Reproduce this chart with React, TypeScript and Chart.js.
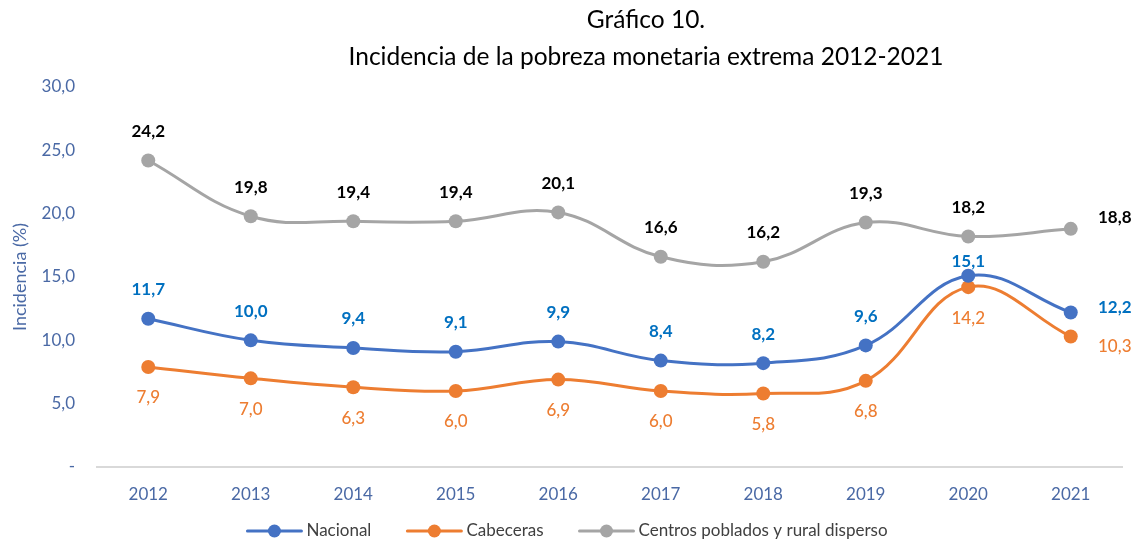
import React, { useEffect, useRef } from 'react';
import { Chart, registerables } from 'chart.js';

Chart.register(...registerables);

const years = ['2012', '2013', '2014', '2015', '2016', '2017', '2018', '2019', '2020', '2021'];
const nacional = [11.7, 10.0, 9.4, 9.1, 9.9, 8.4, 8.2, 9.6, 15.1, 12.2];
const cabeceras = [7.9, 7.0, 6.3, 6.0, 6.9, 6.0, 5.8, 6.8, 14.2, 10.3];
const centros = [24.2, 19.8, 19.4, 19.4, 20.1, 16.6, 16.2, 19.3, 18.2, 18.8];
const seriesNames = ['Nacional', 'Cabeceras', 'Centros poblados y rural disperso'];
const titleLines = ['Gráfico 10.', 'Incidencia de la pobreza monetaria extrema 2012-2021'];
const yTitle = 'Incidencia (%)';

const FONT = 'Lato, "Open Sans", sans-serif';
const AXIS_COLOR = '#4A69A5';
const lineColors = ['#4472C4', '#ED7D31', '#A5A5A5'];
const labelColors = ['#0070C0', '#ED7D31', '#000000'];
const labelWeights = ['bold', '500', 'bold'];

const fmt = (v: number) => v.toFixed(1).replace('.', ',');

const titlePlugin = {
  id: 'customTitle',
  afterDraw(chart: any) {
    const ctx = chart.ctx;
    ctx.save();
    ctx.fillStyle = '#000000';
    ctx.font = `24.5px ${FONT}`;
    ctx.textAlign = 'center';
    ctx.textBaseline = 'middle';
    ctx.fillText(titleLines[0], 646, 20);
    ctx.fillText(titleLines[1], 646, 57);
    ctx.restore();
  },
};

const legendPlugin = {
  id: 'customLegend',
  afterDraw(chart: any) {
    const ctx = chart.ctx;
    ctx.save();
    ctx.font = `17px ${FONT}`;
    const lineW = 56;
    const textGap = 4;
    const itemGap = 35;
    const names = chart.data.datasets.map((d: any) => d.label);
    const widths = names.map((n: string) => ctx.measureText(n).width);
    const total = widths.reduce((a: number, w: number) => a + lineW + textGap + w, 0) + itemGap * (names.length - 1);
    let x = chart.width / 2 - total / 2;
    const y = 531;
    names.forEach((n: string, i: number) => {
      const color = chart.data.datasets[i].borderColor;
      ctx.strokeStyle = color;
      ctx.lineWidth = 3;
      ctx.lineCap = 'round';
      ctx.beginPath();
      ctx.moveTo(x + 1, y);
      ctx.lineTo(x + lineW - 1, y);
      ctx.stroke();
      ctx.fillStyle = color;
      ctx.beginPath();
      ctx.arc(x + lineW / 2, y, 6.5, 0, Math.PI * 2);
      ctx.fill();
      ctx.fillStyle = '#404040';
      ctx.textAlign = 'left';
      ctx.textBaseline = 'middle';
      ctx.fillText(n, x + lineW + textGap, y);
      x += lineW + textGap + widths[i] + itemGap;
    });
    ctx.restore();
  },
};

const labelPlugin = {
  id: 'pointLabels',
  afterDatasetsDraw(chart: any) {
    const ctx = chart.ctx;
    ctx.save();
    ctx.textAlign = 'center';
    ctx.textBaseline = 'middle';
    chart.data.datasets.forEach((ds: any, di: number) => {
      const meta = chart.getDatasetMeta(di);
      ctx.fillStyle = labelColors[di];
      ctx.font = `${labelWeights[di]} 17px ${FONT}`;
      meta.data.forEach((pt: any, i: number) => {
        const v = ds.data[i];
        let x = pt.x;
        let y = pt.y;
        const last = i === ds.data.length - 1;
        if (last) {
          x += 44;
          y += di === 0 ? -5 : di === 1 ? 10 : -11;
        } else if (di === 1) {
          y += 31;
        } else if (di === 0 && i === 8) {
          y -= 14;
        } else {
          y -= 29;
        }
        ctx.fillText(fmt(v), x, y);
      });
    });
    ctx.restore();
  },
};

export default function App() {
  const ref = useRef<HTMLCanvasElement>(null);

  useEffect(() => {
    if (!ref.current) return;
    const seriesData = [nacional, cabeceras, centros];
    const chart = new Chart(ref.current, {
      type: 'line',
      data: {
        labels: years,
        datasets: seriesData.map((d, i) => ({
          label: seriesNames[i],
          data: d,
          borderColor: lineColors[i],
          backgroundColor: lineColors[i],
          borderWidth: 3,
          pointRadius: 7,
          pointHoverRadius: 7,
          pointBackgroundColor: lineColors[i],
          pointBorderColor: lineColors[i],
          pointBorderWidth: 0,
          tension: 0.4,
          fill: false,
        })),
      },
      options: {
        responsive: false,
        maintainAspectRatio: false,
        animation: false,
        layout: { padding: { top: 87, right: 12, bottom: 26, left: 0 } },
        plugins: {
          title: { display: false },
          tooltip: { enabled: false },
          legend: { display: false },
        },
        scales: {
          x: {
            offset: true,
            grid: { display: false, drawTicks: false },
            border: { display: true, color: '#D9D9D9', width: 2 },
            ticks: { color: AXIS_COLOR, font: { family: FONT, size: 17 }, padding: 17 },
            afterFit: (scale: any) => {
              scale.height = 48;
            },
          },
          y: {
            min: 0,
            max: 30,
            grid: { display: false, drawTicks: false },
            border: { display: false },
            ticks: {
              stepSize: 5,
              color: AXIS_COLOR,
              font: { family: FONT, size: 17 },
              padding: 22,
              callback: (v: any) => (Number(v) === 0 ? '-' : fmt(Number(v))),
            },
            title: {
              display: true,
              text: yTitle,
              color: AXIS_COLOR,
              font: { family: FONT, size: 18 },
              padding: { top: 9, bottom: 0 },
            },
            afterFit: (scale: any) => {
              scale.width = 97;
            },
          },
        },
      },
      plugins: [titlePlugin, labelPlugin, legendPlugin],
    });
    return () => chart.destroy();
  }, []);

  return (
    <div style={{ position: 'absolute', left: 0, top: 0, width: 1134, height: 541, background: '#fff' }}>
      <canvas ref={ref} width={1134} height={541} style={{ width: 1134, height: 541 }} />
    </div>
  );
}
